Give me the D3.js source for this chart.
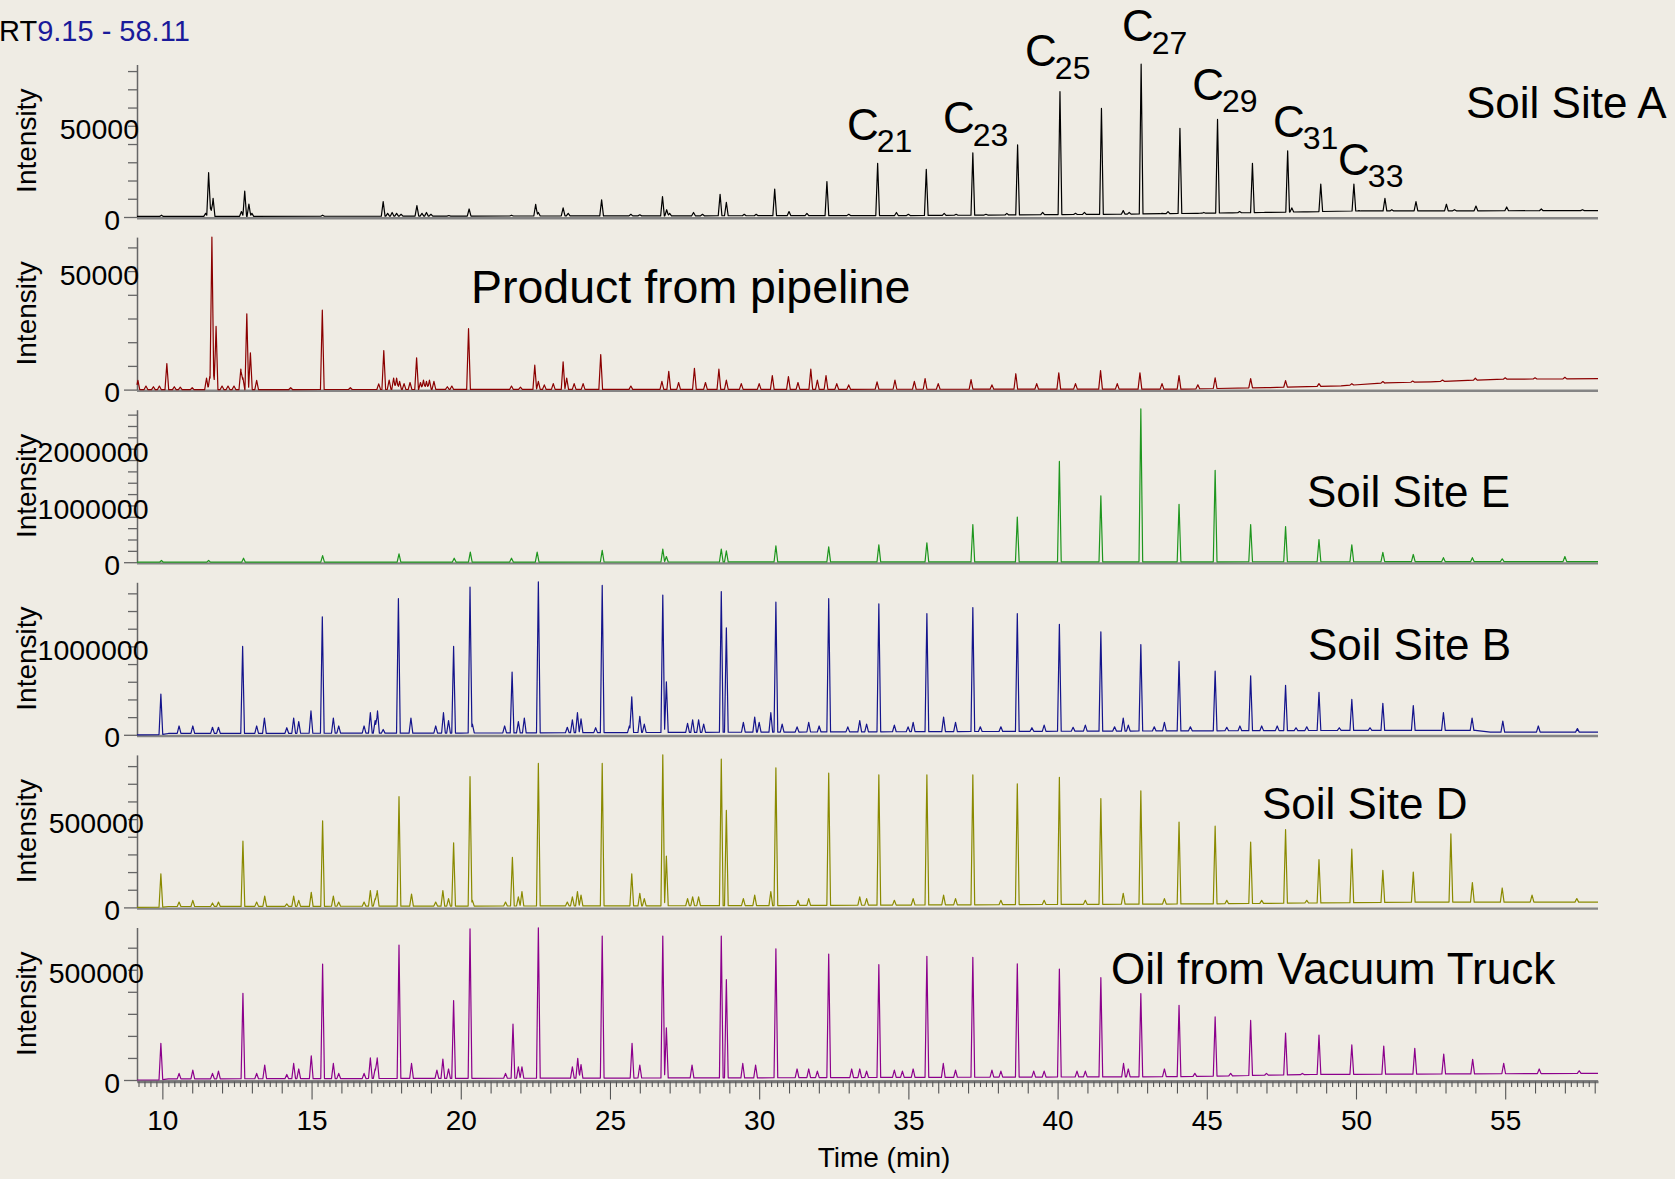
<!DOCTYPE html>
<html>
<head>
<meta charset="utf-8">
<script src="https://cdn.jsdelivr.net/npm/d3@7"></script>
<style>
  body { margin: 0; background: #efece4; }
  svg { display: block; font-family: "Liberation Sans", Arial, sans-serif; }
</style>
</head>
<body>
<div id="plot"></div>
<script>
// retention time window (min)
const rtRange = [9.15, 58.11];

const panelNames = ["Soil Site A", "Product from pipeline", "Soil Site E", "Soil Site B", "Soil Site D", "Oil from Vacuum Truck"];
const panelColors = ["#000000", "#8b0000", "#1e961e", "#14148c", "#8a8a00", "#8c008c"];
const yMax = [83600, 64350, 2687000, 1725000, 863500, 691600];
const yMinorStep = [10000, 10000, 200000, 200000, 100000, 100000];
const yLabelTicks = [[0, 50000], [0, 50000], [0, 1000000, 2000000], [0, 1000000], [0, 500000], [0, 500000]];
const xLabelTicks = [10, 15, 20, 25, 30, 35, 40, 45, 50, 55];

// n-alkane annotations on Soil Site A (label, rt, intensity at label baseline)
const alkaneLabels = ["21", "23", "25", "27", "29", "31", "33"];
const alkaneLabelRT = [32.94, 36.16, 38.91, 42.16, 44.51, 47.22, 49.40];
const alkaneLabelInt = [42470, 46030, 82740, 96440, 64380, 44110, 23290];

// peaks: [rt, apex intensity]
const peaksA = [
  [9.97, 1000], [11.45, 2000], [11.55, 24300], [11.62, 5000], [11.7, 10200],
  [12.65, 3000], [12.76, 14200], [12.9, 7100], [13.0, 2000], [15.37, 1000],
  [17.4, 8400], [17.55, 2000], [17.7, 2500], [17.85, 2000], [18.0, 1500],
  [18.53, 6200], [18.7, 2000], [18.85, 2500], [19.0, 1500], [19.6, 800], [20.28, 4400],
  [21.7, 1000], [22.51, 7000], [22.6, 2500], [23.43, 5000], [23.6, 2000],
  [24.72, 9400], [25.7, 1500], [26.0, 1200], [26.76, 11200], [26.9, 4000], [27.0, 2000],
  [27.8, 2500], [28.1, 1500], [28.69, 12400], [28.9, 8000], [29.5, 1500], [29.9, 1500],
  [30.52, 15300], [31.0, 3000], [31.6, 2000], [32.27, 19400], [33.0, 1500],
  [33.97, 29400], [34.6, 2500], [35.0, 1500], [35.6, 26100], [36.2, 2000], [36.6, 1500],
  [37.16, 35200], [37.6, 1500], [38.3, 2000], [38.66, 39500], [39.5, 2500],
  [40.08, 68700], [40.6, 2000], [40.9, 2500], [41.47, 59500], [42.2, 3500], [42.4, 2500],
  [42.8, 83800], [43.5, 2000], [43.7, 3000], [44.1, 48600], [44.7, 2000], [44.9, 2500],
  [45.36, 53500], [45.8, 2000], [46.1, 3000], [46.53, 29400], [46.9, 2000],
  [47.71, 36300], [47.85, 5000], [48.3, 2500], [48.82, 18100], [49.93, 18100], [50.1, 3500],
  [50.97, 10200], [51.2, 4000], [52.01, 8400], [53.03, 7000], [53.3, 4000],
  [54.02, 6000], [55.05, 5500], [56.21, 4400], [57.59, 4000]
];
const baseA = [[9.15, 300], [35, 800], [42, 1500], [47, 2500], [50, 3300], [58.11, 3500]];

const peaksP = [
  [9.18, 3900], [9.45, 1500], [9.7, 1200], [9.9, 1500], [10.15, 11000], [10.4, 1200], [10.6, 1000], [11.0, 800],
  [11.48, 4900], [11.59, 5600], [11.66, 64400], [11.72, 6000], [11.8, 26700], [12.0, 1500], [12.2, 1500], [12.4, 1500],
  [12.63, 8700], [12.7, 5000], [12.83, 32000], [12.95, 15500], [13.16, 3900],
  [14.3, 800], [15.36, 33500], [16.3, 800],
  [17.25, 2400], [17.42, 16500], [17.6, 4000], [17.75, 4900], [17.85, 4900], [17.95, 3500], [18.1, 2500],
  [18.3, 3000], [18.52, 13400], [18.65, 3000], [18.75, 4000], [18.85, 3500], [18.95, 4000], [19.1, 3500],
  [19.55, 1200], [19.7, 1500], [20.26, 25700],
  [21.7, 1500], [22.0, 1000], [22.48, 10300], [22.6, 3500], [22.8, 2000], [23.1, 2500], [23.43, 11700],
  [23.55, 4900], [23.8, 2500], [24.1, 2500], [24.69, 14800],
  [25.7, 1500], [26.74, 3500], [26.97, 7700], [27.3, 3000], [27.83, 9000], [28.2, 3000], [28.65, 8600],
  [28.9, 4000], [29.4, 2500], [30.0, 2500], [30.44, 5900], [30.98, 5500], [31.3, 3000], [31.73, 8600],
  [31.95, 4000], [32.24, 5900], [32.6, 2500], [33.0, 2000], [33.95, 3300], [34.55, 4000], [35.2, 3500],
  [35.56, 4600], [36.0, 2500], [37.1, 4200], [37.8, 2000], [38.6, 6700], [39.3, 2500], [40.04, 7100],
  [40.6, 2500], [41.44, 8000], [42.0, 2500], [42.76, 7100], [43.5, 2500], [44.07, 5900], [44.7, 2000],
  [45.28, 5000], [46.47, 4600], [47.64, 3800], [48.76, 2500], [49.86, 2500], [50.9, 3400], [51.9, 3600],
  [52.9, 4000], [54.0, 4800], [55.0, 5000], [56.0, 5000], [57.0, 5200]
];
const baseP = [[9.15, 0], [44, 200], [47, 800], [49.5, 1600], [51, 2800], [52.5, 3300], [55, 4400], [58.11, 4600]];

const peaksE = [
  [9.97, 30000], [11.55, 30000], [12.72, 70000], [15.37, 116000], [17.93, 146000], [19.78, 70000],
  [20.32, 176000], [21.7, 70000], [22.56, 176000], [24.74, 210000], [26.77, 230000], [26.89, 100000],
  [28.73, 230000], [28.9, 200000], [30.56, 287000], [32.33, 270000], [34.01, 305000], [35.62, 343000],
  [37.16, 664000], [38.65, 795000], [40.06, 1775000], [41.45, 1170000], [42.79, 2700000], [44.07, 1020000],
  [45.28, 1620000], [46.47, 664000], [47.64, 627000], [48.76, 400000], [49.86, 305000], [50.9, 174000],
  [51.92, 136000], [52.93, 80000], [53.9, 80000], [54.9, 60000], [57.0, 100000]
];
const baseE = [[9.15, 0], [58.11, 10000]];

const peaksB = [
  [9.95, 460000], [10.56, 100000], [11.02, 100000], [11.68, 85000], [11.88, 85000], [12.69, 1000000],
  [13.16, 100000], [13.42, 190000], [14.17, 80000], [14.40, 190000], [14.57, 150000], [14.98, 270000],
  [15.36, 1335000], [15.73, 190000], [15.91, 100000], [16.76, 100000], [16.97, 250000], [17.13, 160000],
  [17.21, 270000], [17.40, 60000], [17.91, 1540000], [18.33, 190000], [19.16, 100000], [19.42, 250000],
  [19.59, 160000], [19.76, 1000000], [20.31, 1670000], [20.39, 120000], [21.47, 100000], [21.72, 710000],
  [21.93, 150000], [22.13, 190000], [22.60, 1730000], [23.57, 85000], [23.74, 170000], [23.91, 250000],
  [24.03, 180000], [24.52, 80000], [24.74, 1690000], [25.65, 100000], [25.73, 430000], [26.0, 210000],
  [26.15, 120000], [26.77, 1580000], [26.89, 600000], [27.6, 130000], [27.77, 170000], [27.97, 170000],
  [28.14, 120000], [28.73, 1620000], [28.9, 1210000], [29.47, 140000], [29.85, 200000], [30.0, 140000],
  [30.39, 250000], [30.56, 1500000], [30.77, 120000], [31.27, 90000], [31.66, 140000], [32.01, 100000],
  [32.33, 1540000], [32.97, 90000], [33.37, 160000], [33.6, 120000], [34.01, 1480000], [34.53, 110000],
  [34.99, 90000], [35.16, 140000], [35.62, 1370000], [36.18, 200000], [36.58, 140000], [37.16, 1440000],
  [37.41, 90000], [38.1, 90000], [38.65, 1370000], [39.14, 80000], [39.55, 110000], [40.06, 1250000],
  [40.52, 85000], [40.93, 110000], [41.45, 1165000], [41.91, 90000], [42.2, 190000], [42.37, 110000],
  [42.79, 1020000], [43.24, 90000], [43.58, 140000], [44.07, 830000], [44.45, 90000], [45.28, 720000],
  [45.67, 85000], [46.11, 100000], [46.47, 667000], [46.84, 100000], [47.36, 100000], [47.64, 560000],
  [47.99, 80000], [48.35, 90000], [48.76, 480000], [49.44, 80000], [49.86, 400000], [50.47, 80000],
  [50.90, 355000], [51.92, 330000], [52.93, 250000], [53.89, 190000], [54.92, 155000], [56.11, 100000],
  [57.42, 70000]
];
const baseB = [[9.15, 0], [9.9, 0], [10.2, 15000], [20, 20000], [30, 30000], [40, 40000], [50, 50000], [54, 50000], [54.5, 30000], [58.11, 30000]];

const peaksD = [
  [9.95, 190000], [10.56, 30000], [11.02, 40000], [11.68, 25000], [11.88, 30000], [12.7, 375000],
  [13.16, 30000], [13.43, 64000], [14.17, 20000], [14.4, 64000], [14.57, 40000], [14.99, 85000],
  [15.37, 490000], [15.73, 64000], [15.91, 30000], [16.76, 30000], [16.97, 95000], [17.13, 50000],
  [17.2, 95000], [17.93, 627000], [18.35, 75000], [19.16, 30000], [19.4, 95000], [19.59, 50000],
  [19.76, 366000], [20.31, 740000], [20.39, 40000], [21.5, 30000], [21.73, 283000], [21.93, 60000],
  [22.05, 90000], [22.6, 815000], [23.57, 30000], [23.74, 60000], [23.91, 90000], [24.03, 70000],
  [24.74, 815000], [25.73, 190000], [26.0, 80000], [26.15, 50000], [26.77, 864000], [26.89, 290000],
  [27.6, 50000], [27.77, 60000], [27.97, 60000], [28.73, 840000], [28.9, 550000], [29.47, 50000],
  [29.85, 70000], [30.39, 90000], [30.56, 790000], [31.3, 40000], [31.66, 50000], [32.33, 760000],
  [33.37, 60000], [33.6, 50000], [34.01, 750000], [34.53, 40000], [35.16, 50000], [35.62, 750000],
  [36.18, 70000], [36.58, 50000], [37.16, 750000], [38.1, 40000], [38.65, 700000], [39.55, 40000],
  [40.06, 737000], [40.93, 40000], [41.45, 616000], [42.2, 80000], [42.79, 660000], [43.58, 50000],
  [44.07, 483000], [45.28, 460000], [45.67, 40000], [46.47, 370000], [46.84, 40000], [47.64, 440000],
  [48.35, 40000], [48.76, 270000], [49.86, 330000], [50.9, 210000], [51.92, 200000],
  [53.18, 416000], [53.9, 140000], [54.9, 110000], [55.9, 70000], [57.4, 50000]
];
const baseD = [[9.15, 0], [9.9, 0], [10.2, 5000], [30, 10000], [45, 20000], [52, 30000], [58.11, 30000]];

const peaksV = [
  [9.95, 166000], [10.56, 30000], [11.02, 45000], [11.68, 30000], [11.88, 40000], [12.7, 393000],
  [13.16, 30000], [13.43, 68000], [14.17, 25000], [14.4, 75000], [14.57, 50000], [14.99, 110000],
  [15.37, 526000], [15.73, 75000], [15.91, 30000], [16.76, 30000], [16.97, 100000], [17.13, 50000],
  [17.2, 100000], [17.93, 612000], [18.35, 75000], [19.2, 45000], [19.4, 95000], [19.59, 50000],
  [19.76, 360000], [20.31, 685000], [21.5, 30000], [21.75, 253000], [21.93, 60000], [22.05, 60000],
  [22.6, 690000], [23.74, 60000], [23.92, 98000], [24.03, 70000], [24.74, 653000], [25.74, 166000],
  [26.0, 68000], [26.77, 653000], [26.89, 237000], [27.75, 68000], [28.73, 653000], [28.9, 455000],
  [29.45, 75000], [29.88, 68000], [30.56, 595000], [31.27, 50000], [31.66, 50000], [31.95, 40000],
  [32.33, 571000], [33.1, 50000], [33.37, 50000], [33.6, 40000], [34.01, 523000], [34.53, 45000],
  [34.8, 40000], [35.16, 50000], [35.62, 561000], [36.17, 75000], [36.58, 45000], [37.16, 556000],
  [37.8, 45000], [38.1, 40000], [38.65, 527000], [39.2, 40000], [39.55, 40000], [40.06, 503000],
  [40.65, 40000], [40.93, 40000], [41.45, 464000], [42.21, 75000], [42.37, 50000], [42.79, 392000],
  [43.58, 50000], [44.07, 339000], [44.6, 30000], [45.28, 286000], [45.8, 30000], [46.47, 270000],
  [47.0, 30000], [47.64, 213000], [48.2, 30000], [48.76, 204000],
  [49.86, 159000], [50.93, 154000], [51.97, 144000], [52.94, 118000], [53.91, 94000], [54.95, 76000],
  [56.14, 50000], [57.48, 42000]
];
const baseV = [[9.15, 0], [9.9, 0], [10.2, 5000], [30, 10000], [44, 15000], [48.5, 25000], [58.11, 30000]];

const peakSets = [peaksA, peaksP, peaksE, peaksB, peaksD, peaksV];
const baseSets = [baseA, baseP, baseE, baseB, baseD, baseV];

// ---- layout
const W = 1675, H = 1179;
const plotLeft = 137, plotRight = 1598;
const firstZero = 217, panelStep = 172.6, panelH = 152.5;
const halfW = 0.062; // peak half width, min

const svg = d3.select("#plot").append("svg")
  .attr("width", W).attr("height", H)
  .style("background", "#efece4");

const x = d3.scaleLinear().domain(rtRange).range([plotLeft, plotRight]);

// header
const rt = svg.append("text").attr("x", -1).attr("y", 40.5).attr("font-size", 29);
rt.append("tspan").attr("fill", "#000").text("RT");
rt.append("tspan").attr("fill", "#1a1a9a").text("9.15 - 58.11");

function buildTrace(peaks, base) {
  const baseAt = d3.scaleLinear().domain(base.map(d => d[0])).range(base.map(d => d[1])).clamp(true);
  let ts = [rtRange[0], rtRange[1]];
  base.forEach(b => ts.push(b[0]));
  peaks.forEach(p => ts.push(p[0] - halfW, p[0], p[0] + halfW));
  ts = ts.filter(t => t >= rtRange[0] && t <= rtRange[1]).sort(d3.ascending);
  return ts.map(t => {
    let v = baseAt(t);
    peaks.forEach(p => {
      const f = 1 - Math.abs(t - p[0]) / halfW;
      if (f > 0) {
        const b0 = baseAt(p[0]);
        v = Math.max(v, b0 + (p[1] - b0) * f);
      }
    });
    return [t, v];
  });
}

panelNames.forEach((name, i) => {
  const zero = firstZero + i * panelStep;
  const y = d3.scaleLinear().domain([0, yMax[i]]).range([zero, zero - panelH]);
  const g = svg.append("g").attr("class", "panel");

  // zero line
  g.append("line")
    .attr("x1", plotLeft).attr("x2", plotRight)
    .attr("y1", zero + 1.2).attr("y2", zero + 1.2)
    .attr("stroke", "#858585").attr("stroke-width", 2.4);

  // y axis
  const ticks = d3.range(0, yMax[i], yMinorStep[i]);
  const yAxis = d3.axisLeft(y)
    .tickValues(ticks)
    .tickSize(9)
    .tickSizeOuter(0)
    .tickFormat(d => yLabelTicks[i].includes(d) ? String(d) : "");
  const ga = g.append("g").attr("transform", `translate(${plotLeft},0)`).call(yAxis);
  ga.select(".domain").attr("stroke", "#666").attr("stroke-width", 1.5);
  ga.selectAll(".tick line").attr("stroke", "#666").attr("stroke-width", 1.3)
    .attr("x2", d => d === 0 ? -13 : -9);
  ga.selectAll(".tick text")
    .attr("font-size", 28.5)
    .attr("font-family", "Liberation Sans, Arial, sans-serif")
    .attr("fill", "#000")
    .attr("text-anchor", "end")
    .attr("x", d => 120 + (String(d).length - 1) * 4.75 - plotLeft)
    .attr("y", d => d === 0 ? 3 : 4);

  // axis title
  g.append("text")
    .attr("transform", `translate(36,${zero - panelH / 2}) rotate(-90)`)
    .attr("text-anchor", "middle")
    .attr("font-size", 28)
    .text("Intensity");

  // chromatogram
  const line = d3.line().x(d => x(d[0])).y(d => y(d[1]));
  g.append("path")
    .datum(buildTrace(peakSets[i], baseSets[i]))
    .attr("fill", "none")
    .attr("stroke", panelColors[i])
    .attr("stroke-width", 1.2)
    .attr("stroke-linejoin", "round")
    .attr("d", line);

  if (i === 0) {
    alkaneLabels.forEach((c, k) => {
      const t = g.append("text")
        .attr("x", x(alkaneLabelRT[k]))
        .attr("y", y(alkaneLabelInt[k]))
        .attr("font-size", 44);
      t.append("tspan").text("C");
      t.append("tspan").attr("font-size", 32).attr("dx", -2).attr("dy", 12.5).text(c);
    });
  }
});

// series labels
const labelX = [1466, 471, 1307, 1308, 1262, 1111];
const labelY = [118, 303, 507, 660, 819, 984];
const labelSize = [44, 46.5, 44, 44, 44, 44];
panelNames.forEach((name, i) => {
  svg.append("text")
    .attr("x", labelX[i]).attr("y", labelY[i])
    .attr("font-size", labelSize[i])
    .attr("fill", "#000")
    .text(name);
});

// bottom time axis
const bottomZero = firstZero + 5 * panelStep;
const xTicks = d3.range(46, 291).map(k => k / 5);
const isMajor = d => Math.abs(d - Math.round(d)) < 1e-6 && xLabelTicks.includes(Math.round(d));
const xAxis = d3.axisBottom(x)
  .tickValues(xTicks)
  .tickSizeOuter(0)
  .tickFormat(d => isMajor(d) ? String(Math.round(d)) : "");
const gx = svg.append("g").attr("transform", `translate(0,${bottomZero + 1.5})`).call(xAxis);
gx.select(".domain").attr("stroke", "#777").attr("stroke-width", 2.5);
gx.selectAll(".tick line")
  .attr("stroke", "#555")
  .attr("stroke-width", 1.1)
  .attr("y2", d => {
    if (isMajor(d)) return 18;
    if (Math.abs(d - Math.round(d)) < 1e-6) return 12;
    return 5.5;
  });
gx.selectAll(".tick text")
  .attr("font-size", 28)
  .attr("font-family", "Liberation Sans, Arial, sans-serif")
  .attr("fill", "#000")
  .attr("y", 1130 - bottomZero - 1.5)
  .attr("dy", 0);

svg.append("text")
  .attr("x", 884).attr("y", 1167)
  .attr("text-anchor", "middle")
  .attr("font-size", 28)
  .text("Time (min)");
</script>
</body>
</html>
